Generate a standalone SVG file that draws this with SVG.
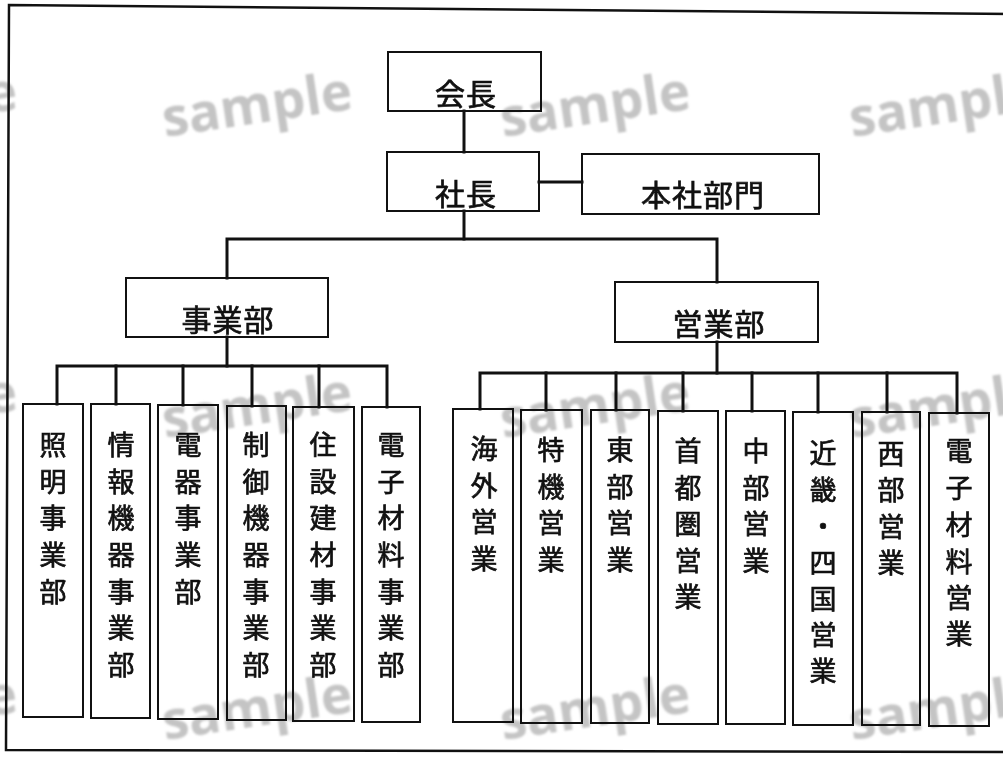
<svg xmlns="http://www.w3.org/2000/svg" width="1003" height="758" viewBox="0 0 1003 758">
<style>
.wm{font-family:"Open Sans","Liberation Sans",sans-serif;font-weight:700;font-size:53px;fill:#c4c4c4}
.box{fill:none;stroke:#111;stroke-width:2}
.con{fill:none;stroke:#111;stroke-width:3;stroke-linecap:square}
.h{font-family:"Noto Sans CJK JP","Noto Sans CJK SC",sans-serif;font-size:30px;font-weight:400;fill:#111;stroke:#111;stroke-width:0.7px;text-anchor:middle;dominant-baseline:central;letter-spacing:1px}
.v{font-family:"Noto Sans CJK JP","Noto Sans CJK SC",sans-serif;font-size:27px;font-weight:400;fill:#111;stroke:#111;stroke-width:0.7px;text-anchor:middle;dominant-baseline:central}
</style>
<defs>
<filter id="soft" x="-10%" y="-10%" width="120%" height="120%"><feGaussianBlur stdDeviation="0.8"/></filter>
</defs>
<rect width="1003" height="758" fill="#fff"/>
<g id="watermarks" filter="url(#soft)">
<text class="wm" x="-170" y="137" transform="rotate(-8.5 -170 137)">sample</text>
<text class="wm" x="165" y="137" transform="rotate(-8.5 165 137)">sample</text>
<text class="wm" x="503" y="137" transform="rotate(-8.5 503 137)">sample</text>
<text class="wm" x="852" y="137" transform="rotate(-8.5 852 137)">sample</text>
<text class="wm" x="-170" y="438" transform="rotate(-8.5 -170 438)">sample</text>
<text class="wm" x="165" y="438" transform="rotate(-8.5 165 438)">sample</text>
<text class="wm" x="503" y="438" transform="rotate(-8.5 503 438)">sample</text>
<text class="wm" x="852" y="438" transform="rotate(-8.5 852 438)">sample</text>
<text class="wm" x="-170" y="740" transform="rotate(-8.5 -170 740)">sample</text>
<text class="wm" x="165" y="740" transform="rotate(-8.5 165 740)">sample</text>
<text class="wm" x="503" y="740" transform="rotate(-8.5 503 740)">sample</text>
<text class="wm" x="852" y="740" transform="rotate(-8.5 852 740)">sample</text>
</g>
<path id="frame" d="M1012,14 L9,5 L6,750 L1012,752" fill="none" stroke="#111" stroke-width="2.5"/>
<g id="connectors">
<path class="con" d="M464,111 V152"/>
<path class="con" d="M539,182 H582"/>
<path class="con" d="M464,211 V239"/>
<path class="con" d="M227,278 V239 H717 V282"/>
<path class="con" d="M227,337 V366"/>
<path class="con" d="M57,404 V366 H387 V407"/>
<path class="con" d="M116,366 V404 M183,366 V405 M252,366 V406 M319,366 V407"/>
<path class="con" d="M717,342 V373"/>
<path class="con" d="M480,409 V373 H957 V413"/>
<path class="con" d="M546,373 V410 M616,373 V410 M683,373 V411 M752,373 V411 M818,373 V412 M887,373 V412"/>
</g>
<g id="n-kaicho"><rect class="box" x="388" y="52" width="153" height="59"/><text class="h" x="466" y="92">会長</text></g>
<g id="n-shacho"><rect class="box" x="387" y="152" width="152" height="59"/><text class="h" x="466" y="192">社長</text></g>
<g id="n-honsha"><rect class="box" x="582" y="154" width="237" height="60"/><text class="h" x="703" y="193">本社部門</text></g>
<g id="n-jigyobu"><rect class="box" x="126" y="278" width="202" height="59"/><text class="h" x="228" y="318">事業部</text></g>
<g id="n-eigyobu"><rect class="box" x="615" y="282" width="203" height="60"/><text class="h" x="719" y="322">営業部</text></g>

<g id="n-shomei"><rect class="box" x="23" y="404" width="60" height="313"/>
<text class="v"><tspan x="53" y="443">照</tspan><tspan x="53" y="480">明</tspan><tspan x="53" y="516">事</tspan><tspan x="53" y="553">業</tspan><tspan x="53" y="590">部</tspan></text></g>
<g id="n-joho"><rect class="box" x="91" y="404" width="59" height="314"/>
<text class="v"><tspan x="121" y="443">情</tspan><tspan x="121" y="480">報</tspan><tspan x="121" y="516">機</tspan><tspan x="121" y="553">器</tspan><tspan x="121" y="590">事</tspan><tspan x="121" y="626">業</tspan><tspan x="121" y="663">部</tspan></text></g>
<g id="n-denki"><rect class="box" x="158" y="405" width="60" height="314"/>
<text class="v"><tspan x="188" y="443">電</tspan><tspan x="188" y="480">器</tspan><tspan x="188" y="516">事</tspan><tspan x="188" y="553">業</tspan><tspan x="188" y="590">部</tspan></text></g>
<g id="n-seigyo"><rect class="box" x="227" y="406" width="59" height="314"/>
<text class="v"><tspan x="256" y="443">制</tspan><tspan x="256" y="480">御</tspan><tspan x="256" y="516">機</tspan><tspan x="256" y="553">器</tspan><tspan x="256" y="590">事</tspan><tspan x="256" y="626">業</tspan><tspan x="256" y="663">部</tspan></text></g>
<g id="n-jusetsu"><rect class="box" x="293" y="407" width="61" height="314"/>
<text class="v"><tspan x="323" y="443">住</tspan><tspan x="323" y="480">設</tspan><tspan x="323" y="516">建</tspan><tspan x="323" y="553">材</tspan><tspan x="323" y="590">事</tspan><tspan x="323" y="626">業</tspan><tspan x="323" y="663">部</tspan></text></g>
<g id="n-denshi-j"><rect class="box" x="362" y="407" width="58" height="315"/>
<text class="v"><tspan x="391" y="443">電</tspan><tspan x="391" y="480">子</tspan><tspan x="391" y="516">材</tspan><tspan x="391" y="553">料</tspan><tspan x="391" y="590">事</tspan><tspan x="391" y="626">業</tspan><tspan x="391" y="663">部</tspan></text></g>

<g id="n-kaigai"><rect class="box" x="453" y="409" width="60" height="313"/>
<text class="v"><tspan x="484" y="447">海</tspan><tspan x="484" y="484">外</tspan><tspan x="484" y="520">営</tspan><tspan x="484" y="557">業</tspan></text></g>
<g id="n-tokki"><rect class="box" x="521" y="410" width="61" height="313"/>
<text class="v"><tspan x="551" y="448">特</tspan><tspan x="551" y="485">機</tspan><tspan x="551" y="521">営</tspan><tspan x="551" y="558">業</tspan></text></g>
<g id="n-tobu"><rect class="box" x="591" y="410" width="58" height="313"/>
<text class="v"><tspan x="620" y="448">東</tspan><tspan x="620" y="485">部</tspan><tspan x="620" y="521">営</tspan><tspan x="620" y="558">業</tspan></text></g>
<g id="n-shuto"><rect class="box" x="658" y="411" width="60" height="313"/>
<text class="v"><tspan x="688" y="449">首</tspan><tspan x="688" y="486">都</tspan><tspan x="688" y="522">圏</tspan><tspan x="688" y="559">営</tspan><tspan x="688" y="595">業</tspan></text></g>
<g id="n-chubu"><rect class="box" x="726" y="411" width="59" height="313"/>
<text class="v"><tspan x="756" y="449">中</tspan><tspan x="756" y="486">部</tspan><tspan x="756" y="522">営</tspan><tspan x="756" y="559">業</tspan></text></g>
<g id="n-kinki"><rect class="box" x="793" y="412" width="60" height="313"/>
<text class="v"><tspan x="823" y="451">近</tspan><tspan x="823" y="488">畿</tspan><tspan x="823" y="524">・</tspan><tspan x="823" y="561">四</tspan><tspan x="823" y="597">国</tspan><tspan x="823" y="633">営</tspan><tspan x="823" y="669">業</tspan></text></g>
<g id="n-seibu"><rect class="box" x="862" y="412" width="58" height="313"/>
<text class="v"><tspan x="891" y="452">西</tspan><tspan x="891" y="488">部</tspan><tspan x="891" y="525">営</tspan><tspan x="891" y="561">業</tspan></text></g>
<g id="n-denshi-e"><rect class="box" x="929" y="413" width="60" height="313"/>
<text class="v"><tspan x="959" y="449">電</tspan><tspan x="959" y="486">子</tspan><tspan x="959" y="523">材</tspan><tspan x="959" y="560">料</tspan><tspan x="959" y="596">営</tspan><tspan x="959" y="632">業</tspan></text></g>
</svg>
